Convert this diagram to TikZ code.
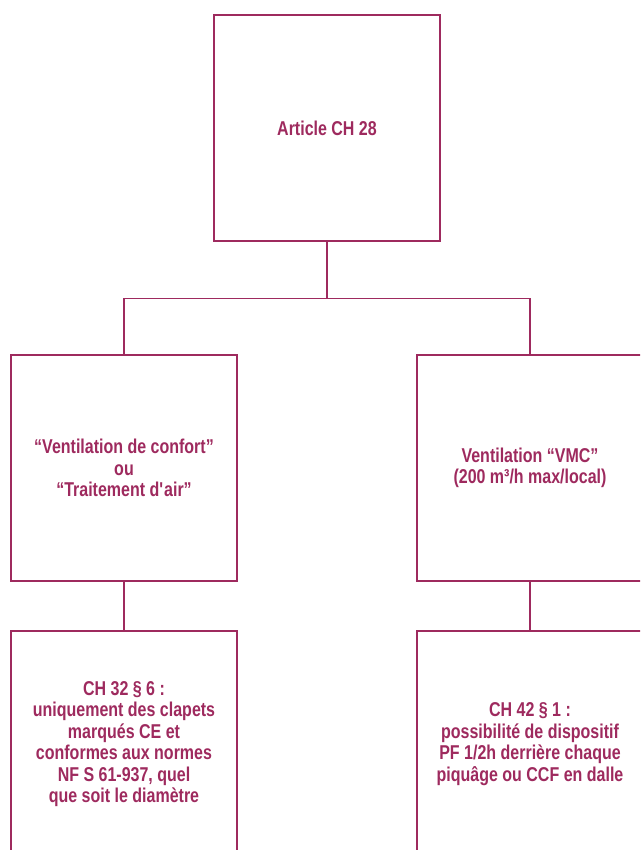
\documentclass[tikz,border=0pt]{standalone}
\usepackage{fontspec}
\setmainfont{Liberation Sans}[FakeStretch=0.8]
\usetikzlibrary{positioning}

\definecolor{ctred}{HTML}{9E2A5E}

\begin{document}
\begin{tikzpicture}[node distance=2cm,on grid,
    box/.style={draw=ctred,line width=1.2pt,text=ctred,minimum width=226pt,minimum height=226pt,
      align=center,inner sep=0pt,font=\fontsize{20pt}{21.5pt}\selectfont\bfseries}]
                \useasboundingbox (0,0) rectangle (640pt,-850pt);
                \clip (0,0) rectangle (640pt,-850pt);
                \node[box] (art) at (327pt,-128pt) {Article CH 28};
                \node[box] [below left=340pt and 203pt of art] (confort) {“Ventilation de confort”\\ou\\“Traitement d\textquotesingle air”};
                \node[box] [below right=340pt and 203pt of art] (vmc) {Ventilation “VMC”\\(200 m³/h max/local)};
                \node[box] [below=276pt of confort] (ch32) {CH 32 § 6 :\\uniquement des clapets\\marqués CE et\\conformes aux normes\\NF S 61-937, quel\\que soit le diamètre};
                \node[box] [below=276pt of vmc] (ch42) {CH 42 § 1 :\\possibilité de dispositif\\PF 1/2h derrière chaque\\piquâge ou CCF en dalle};
                \coordinate [below=57pt of art.south] (split);
                \path[draw=ctred,line width=1.2pt]
                (art.south) -- (split)
                (confort.north) |- (split) -| (vmc.north)
                (confort) -- (ch32)
                (vmc) -- (ch42);
            \end{tikzpicture}
\end{document}
